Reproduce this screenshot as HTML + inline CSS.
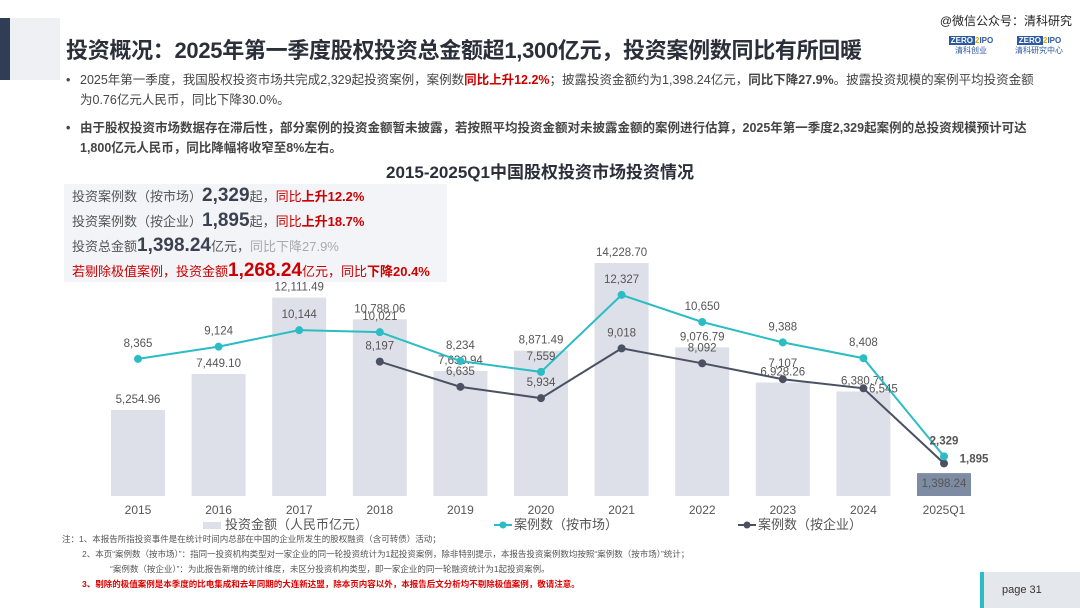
<!DOCTYPE html>
<html><head><meta charset="utf-8">
<style>
body{margin:0;width:1080px;height:608px;background:#fff;overflow:hidden;font-family:"Liberation Sans","Noto Sans CJK SC",sans-serif;position:relative;color:#333}
.abs{position:absolute}
</style></head><body>
<div class="abs" style="left:0;top:18px;width:10px;height:62px;background:#2f3e55"></div>
<div class="abs" style="left:10px;top:18px;width:50px;height:62px;background:#eef0f4"></div>
<div class="abs" style="right:8px;top:12px;font-size:12px;color:#222">@微信公众号：清科研究</div>
<div class="abs" style="left:66px;top:33px;font-size:22px;font-weight:bold;color:#2a2f3a;letter-spacing:-0.3px">投资概况：2025年第一季度股权投资总金额超1,300亿元，投资案例数同比有所回暖</div>
<div class="abs" style="left:942px;top:36px;width:58px;height:28px;font-size:8px;color:#2c5aa0;text-align:center;line-height:10px"><b style="background:#2c5aa0;color:#fff;padding:0 2px">ZERO</b><b style="color:#e2a800">2</b><b>IPO</b><br>清科创业</div>
<div class="abs" style="left:1008px;top:36px;width:62px;height:28px;font-size:8px;color:#2c5aa0;text-align:center;line-height:10px"><b style="background:#2c5aa0;color:#fff;padding:0 2px">ZERO</b><b style="color:#e2a800">2</b><b>IPO</b><br>清科研究中心</div>
<div class="abs" style="left:66px;top:70px;width:960px;font-size:12.5px;line-height:20px;color:#444;padding-left:14px">
<span style="position:absolute;left:0">•</span>2025年第一季度，我国股权投资市场共完成2,329起投资案例，案例数<b style="color:#c00">同比上升12.2%</b>；披露投资金额约为1,398.24亿元，<b>同比下降27.9%</b>。披露投资规模的案例平均投资金额为0.76亿元人民币，同比下降30.0%。</div>
<div class="abs" style="left:66px;top:118px;width:960px;font-size:12.5px;line-height:20px;color:#444;font-weight:bold;padding-left:14px">
<span style="position:absolute;left:0">•</span>由于股权投资市场数据存在滞后性，部分案例的投资金额暂未披露，若按照平均投资金额对未披露金额的案例进行估算，2025年第一季度2,329起案例的总投资规模预计可达1,800亿元人民币，同比降幅将收窄至8%左右。</div>
<div class="abs" style="left:0;width:1080px;text-align:center;top:158px;font-size:17px;font-weight:bold;color:#2a2f3a">2015-2025Q1中国股权投资市场投资情况</div>
<div class="abs" style="left:64px;top:184px;width:375px;height:98px;background:rgba(240,242,246,0.85);font-size:13px;line-height:24px;padding-left:8px;color:#555;z-index:2">
<div>投资案例数（按市场）<b style="font-size:19px;color:#3a4150">2,329</b>起，<span style="color:#c00">同比<b>上升12.2%</b></span></div>
<div>投资案例数（按企业）<b style="font-size:19px;color:#3a4150">1,895</b>起，<span style="color:#c00">同比<b>上升18.7%</b></span></div>
<div>投资总金额<b style="font-size:19px;color:#3a4150">1,398.24</b>亿元，<span style="color:#aaa">同比下降27.9%</span></div>
<div style="color:#c00">若剔除极值案例，投资金额<b style="font-size:19px">1,268.24</b>亿元，同比<b>下降20.4%</b></div>
</div>
<svg class="abs" style="left:0;top:0" width="1080" height="608" id="chart"></svg>
<div class="abs" style="left:62px;top:532px;font-size:8.5px;line-height:15px;color:#555">
<div>注：1、本报告所指投资事件是在统计时间内总部在中国的企业所发生的股权融资（含可转债）活动；</div>
<div style="padding-left:20px">2、本页“案例数（按市场）”：指同一投资机构类型对一家企业的同一轮投资统计为1起投资案例，除非特别提示，本报告投资案例数均按照“案例数（按市场）”统计；</div>
<div style="padding-left:48px">“案例数（按企业）”：为此报告新增的统计维度，未区分投资机构类型，即一家企业的同一轮融资统计为1起投资案例。</div>
<div style="padding-left:20px;color:#d00;font-weight:bold">3、剔除的极值案例是本季度的比电集成和去年同期的大连新达盟，除本页内容以外，本报告后文分析均不剔除极值案例，敬请注意。</div>
</div>
<div class="abs" style="left:980px;top:572px;width:100px;height:36px;background:#e4e7ec;border-left:4px solid #2bbcc4;font-size:11px;line-height:36px;padding-left:18px;box-sizing:border-box">page 31</div>
<script>
const categories=["2015","2016","2017","2018","2019","2020","2021","2022","2023","2024","2025Q1"];
const amounts=[5254.96,7449.10,12111.49,10788.06,7630.94,8871.49,14228.70,9076.79,6928.26,6380.71,1398.24];
const marketCases=[8365,9124,10144,10021,8234,7559,12327,10650,9388,8408,2329];
const firmCases=[null,null,null,8197,6635,5934,9018,8092,7107,6545,1895];
const amountLabels=["5,254.96","7,449.10","12,111.49","10,788.06","7,630.94","8,871.49","14,228.70","9,076.79","6,928.26","6,380.71","1,398.24"];
const fmt=v=>v.toLocaleString('en-US');
const svg=document.getElementById('chart'),NS='http://www.w3.org/2000/svg';
const x=i=>138+i*80.6, yb=v=>496-v*0.01638, yl=v=>494-v*0.01615;
function mk(t,a,name){const e=document.createElementNS(NS,t);for(const k in a)e.setAttribute(k,a[k]);


svg.appendChild(e);return e;}
function txt(s,xx,yy,name,extra){const e=mk('text',Object.assign({x:xx,y:yy,'text-anchor':'middle','font-size':11.5,fill:'#555','font-family':'Liberation Sans, sans-serif'},extra||{}),name);e.textContent=s;return e;}
amounts.forEach((v,i)=>{mk('rect',{x:x(i)-27,y:yb(v),width:54,height:496-yb(v),fill:i==10?'#7d8ca3':'#dde0e8'},'bar-'+categories[i]);
txt(amountLabels[i],x(i),i==10?yb(v)+14:yb(v)-7,'bar-label-'+categories[i]);
txt(categories[i],x(i),514,'x-tick-'+categories[i],{'font-size':12});});
function line(data,color,name){let p=[];data.forEach((v,i)=>{if(v!=null)p.push(x(i)+','+yl(v));});
mk('polyline',{points:p.join(' '),fill:'none',stroke:color,'stroke-width':2},name+'-line');
data.forEach((v,i)=>{if(v==null)return;mk('circle',{cx:x(i),cy:yl(v),r:4,fill:color},name+'-point-'+categories[i]);});}
line(firmCases,'#4a5163','firm-cases');
line(marketCases,'#2bbcc4','market-cases');
marketCases.forEach((v,i)=>{txt(fmt(v),x(i),yl(v)-12,'market-label-'+categories[i],i==10?{'font-weight':'bold'}:{});});
firmCases.forEach((v,i)=>{if(v==null)return;
if(i==10)txt(fmt(v),x(i)+30,yl(v)-1,'firm-label-'+categories[i],{'font-weight':'bold'});
else if(i==9)txt(fmt(v),x(i)+20,yl(v)+4,'firm-label-'+categories[i]);
else txt(fmt(v),x(i),yl(v)-12,'firm-label-'+categories[i]);});
mk('rect',{x:203,y:522,width:18,height:7,fill:'#dde0e8'},'legend-amount-swatch');
txt('投资金额（人民币亿元）',225,529,'legend-amount',{'text-anchor':'start','font-size':13,'font-family':'Liberation Sans, Noto Sans CJK SC, sans-serif'});
mk('line',{x1:494,y1:525,x2:512,y2:525,stroke:'#2bbcc4','stroke-width':2},'legend-market-line');
mk('circle',{cx:503,cy:525,r:3.5,fill:'#2bbcc4'},'legend-market-dot');
txt('案例数（按市场）',514,529,'legend-market',{'text-anchor':'start','font-size':13,'font-family':'Liberation Sans, Noto Sans CJK SC, sans-serif'});
mk('line',{x1:738,y1:525,x2:756,y2:525,stroke:'#4a5163','stroke-width':2},'legend-firm-line');
mk('circle',{cx:747,cy:525,r:3.5,fill:'#4a5163'},'legend-firm-dot');
txt('案例数（按企业）',758,529,'legend-firm',{'text-anchor':'start','font-size':13,'font-family':'Liberation Sans, Noto Sans CJK SC, sans-serif'});
</script>
</body></html>
